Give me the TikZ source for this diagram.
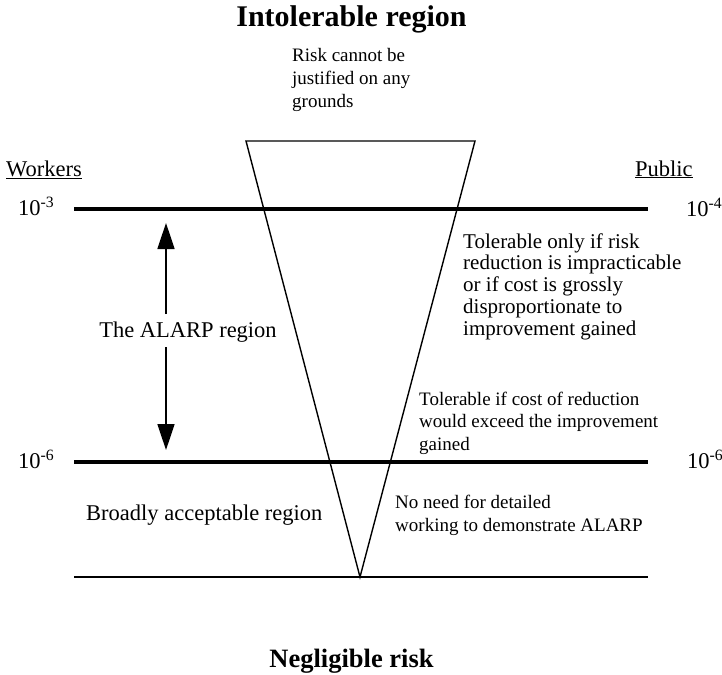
\documentclass[tikz,border=0pt]{standalone}
\usepackage{fontspec}
\setmainfont{Liberation Serif}
\usetikzlibrary{arrows.meta}
\begin{document}
\begin{tikzpicture}[x=1pt,y=-1pt,
  thickline/.style={line width=3.4pt},
  baseline line/.style={line width=2pt},
  tri/.style={line width=1.4pt, line join=miter},
  alarparrow/.style={line width=1.5pt,-{Triangle[length=26pt,width=17pt]}},
  biglabel/.style={inner sep=0pt, font=\fontsize{22.5}{26}\selectfont},
  smalltext/.style={inner sep=0pt, align=left, font=\fontsize{19}{22.5}\selectfont},
  midtext/.style={inner sep=0pt, align=left, font=\fontsize{21}{21.75}\selectfont},
  title/.style={inner sep=0pt, font=\bfseries\fontsize{30}{34}\selectfont},
  subtitle/.style={inner sep=0pt, font=\bfseries\fontsize{26.5}{30}\selectfont}
]
\useasboundingbox (0,0) rectangle (722,674);

% level lines
\coordinate (L1a) at (74,209);  \coordinate (L1b) at (648,209);
\coordinate (L2a) at (74,462);  \coordinate (L2b) at (648,462);
\coordinate (L3a) at (74,577);  \coordinate (L3b) at (648,577);
\draw[thickline] (L1a) -- (L1b);
\draw[thickline] (L2a) -- (L2b);
\draw[baseline line] (L3a) -- (L3b);

% inverted triangle
\coordinate (T1) at (246,141);
\coordinate (T2) at (475,141);
\coordinate (T3) at (360,577);
\draw[tri] (T1) -- (T2) -- (T3) -- cycle;

% titles
\node[title, anchor=base] (intol) at (351.5,27) {Intolerable region};
\node[subtitle, anchor=base] (neglig) at (351.5,667) {Negligible risk};

% axis labels
\node[biglabel, anchor=base west] (workers) at (6,176) {\underline{Workers}};
\node[biglabel, anchor=base west] (public) at (635,176) {\underline{Public}};
\node[biglabel, anchor=base west] (w3) at (18,215) {10\textsuperscript{-3}};
\node[biglabel, anchor=base west] (p4) at (686,216) {10\textsuperscript{-4}};
\node[biglabel, anchor=base west] (w6) at (18,468) {10\textsuperscript{-6}};
\node[biglabel, anchor=base west] (p6) at (687,468) {10\textsuperscript{-6}};

% region labels
\node[biglabel, anchor=base] (alarp) at (188,337) {The ALARP region};
\node[biglabel, anchor=base west] (broad) at (86,520) {Broadly acceptable region};

% ALARP arrow
\coordinate (aup) at (166,223);
\coordinate (aupstart) at (166,314);
\coordinate (adown) at (166,450);
\coordinate (adownstart) at (166,347);
\draw[alarparrow] (aupstart) -- (aup);
\draw[alarparrow] (adownstart) -- (adown);

% explanatory texts (base anchor = baseline of last line)
\node[smalltext, anchor=base west] (risk) at (292,107)
  {Risk cannot be\\justified on any\\grounds};
\node[midtext, anchor=base west] (tolonly) at (463,335)
  {Tolerable only if risk\\reduction is impracticable\\or if cost is grossly\\disproportionate to\\improvement gained};
\node[smalltext, anchor=base west] (tolif) at (419,450)
  {Tolerable if cost of reduction\\would exceed the improvement\\gained};
\node[smalltext, anchor=base west] (noneed) at (395,531)
  {No need for detailed\\working to demonstrate ALARP};
\end{tikzpicture}
\end{document}
